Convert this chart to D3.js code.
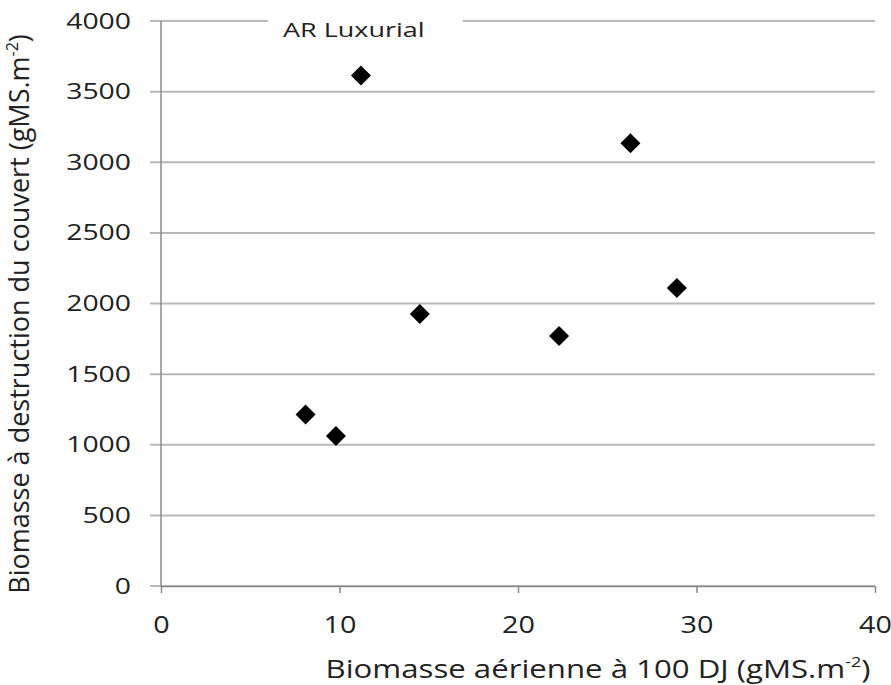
<!DOCTYPE html>
<html>
<head>
<meta charset="utf-8">
<script src="https://cdn.jsdelivr.net/npm/d3@7"></script>
<style>
  body { margin: 0; background: #fff; }
  svg text { font-family: "Open Sans", "Liberation Sans", sans-serif; fill: #222; }
</style>
</head>
<body>
<div id="chart"></div>
<script>
// Biomasse aérienne à 100 DJ (x) vs biomasse à destruction du couvert (y)
const xValues = [8.1, 9.8, 11.2, 14.5, 22.3, 26.3, 28.9];
const yValues = [1215, 1062, 3615, 1925, 1770, 3135, 2110];
const xTicks = [0, 10, 20, 30, 40];
const yTicks = [0, 500, 1000, 1500, 2000, 2500, 3000, 3500, 4000];
const chartTitle = 'AR Luxurial';

const W = 891, H = 685;
const margin = { top: 21, right: 16, bottom: 99, left: 161 };
const width = W - margin.left - margin.right;
const height = H - margin.top - margin.bottom;
const stretch = 1.35; // the source picture is a bit wide

const svg = d3.select('#chart').append('svg')
    .attr('width', W)
    .attr('height', H);

const g = svg.append('g')
    .attr('transform', `translate(${margin.left},${margin.top})`);

const x = d3.scaleLinear().domain([0, 40]).range([0, width]);
const y = d3.scaleLinear().domain([0, 4000]).range([height, 0]);

// horizontal gridlines (stick out a bit left of the axis)
g.append('g')
    .selectAll('line')
    .data(yTicks)
    .join('line')
    .attr('x1', -11)
    .attr('x2', width)
    .attr('y1', d => y(d))
    .attr('y2', d => y(d))
    .attr('stroke', '#b9b9b9')
    .attr('stroke-width', 2);

// y axis line
g.append('line')
    .attr('x1', 0).attr('x2', 0)
    .attr('y1', 0).attr('y2', height)
    .attr('stroke', '#8a8a8a')
    .attr('stroke-width', 1.5);

// y tick labels
g.append('g')
    .selectAll('text')
    .data(yTicks)
    .join('text')
    .attr('transform', d => `translate(-30,${y(d)}) scale(${stretch},1)`)
    .attr('dy', '0.36em')
    .attr('text-anchor', 'end')
    .style('font-size', '21px')
    .text(d => d);

// x axis
const xAxis = g.append('g')
    .attr('transform', `translate(0,${height})`)
    .call(d3.axisBottom(x).tickValues(xTicks).tickSize(7).tickPadding(24).tickSizeOuter(0));
xAxis.select('.domain').attr('stroke', '#8a8a8a').attr('stroke-width', 1.5);
xAxis.selectAll('.tick line').attr('stroke', '#8a8a8a').attr('stroke-width', 1.5);
xAxis.selectAll('.tick text')
    .style('font-size', '23px')
    .style('font-family', '"Open Sans", sans-serif')
    .attr('transform', `scale(${stretch - 0.1},1)`)
    .attr('fill', '#222');

// title sitting on the top gridline
const titleG = g.append('g');
titleG.append('rect')
    .attr('x', x(6))
    .attr('y', -12)
    .attr('width', x(10.9))
    .attr('height', 26)
    .attr('fill', '#fff');
titleG.append('text')
    .attr('transform', `translate(${x(10.8)},16) scale(${stretch},1)`)
    .attr('text-anchor', 'middle')
    .style('font-size', '20px')
    .text(chartTitle);

// points: diamonds
const points = xValues.map((v, i) => ({ x: v, y: yValues[i] }));
g.append('g')
    .selectAll('path')
    .data(points)
    .join('path')
    .attr('d', d3.symbol().type(d3.symbolSquare).size(200))
    .attr('transform', d => `translate(${x(d.x)},${y(d.y)}) rotate(45)`)
    .attr('fill', '#000');

// axis titles
const xLabel = svg.append('text')
    .attr('transform', `translate(598,678) scale(1.2,1)`)
    .attr('text-anchor', 'middle')
    .style('font-size', '26px');
xLabel.append('tspan').text('Biomasse aérienne à 100 DJ (gMS.m');
xLabel.append('tspan').attr('dy', -11).style('font-size', '15px').text('-2');
xLabel.append('tspan').attr('dy', 11).text(')');

const yLabel = svg.append('text')
    .attr('transform', `translate(29,314) rotate(-90)`)
    .attr('text-anchor', 'middle')
    .style('font-size', '27px');
yLabel.append('tspan').text('Biomasse à destruction du couvert (gMS.m');
yLabel.append('tspan').attr('dy', -11).style('font-size', '16px').text('-2');
yLabel.append('tspan').attr('dy', 11).text(')');
</script>
</body>
</html>
